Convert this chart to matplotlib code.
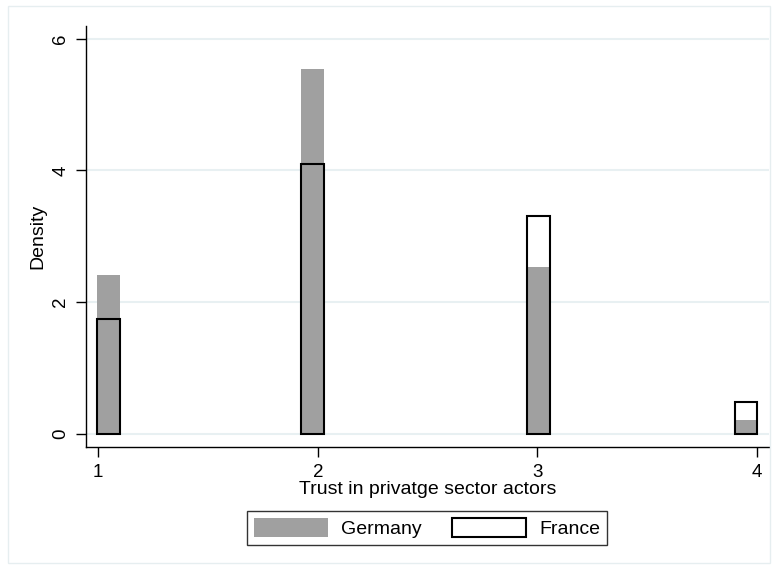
import matplotlib
matplotlib.use("Agg")
import matplotlib.pyplot as plt
from matplotlib.patches import Rectangle, Patch

plt.rcParams['font.family'] = ['Liberation Sans', 'DejaVu Sans']

# histogram bins (left edge of each bar) and densities
bin_left = [0.995, 1.925, 2.955, 3.9]
bin_width = 0.103
germany = [2.42, 5.54, 2.53, 0.21]
france = [1.74, 4.10, 3.31, 0.49]

fig = plt.figure(figsize=(7.76, 5.71), dpi=100)
fig.patches.append(Rectangle((8 / 776, 8 / 571), 762 / 776, 557 / 571,
                             transform=fig.transFigure, fill=False,
                             edgecolor='#e6eef0', linewidth=1))

ax = fig.add_axes([86 / 776, 1 - 447 / 571, 683 / 776, 421 / 571])

ax.bar(bin_left, germany, width=bin_width, align='edge', color='#a0a0a0',
       linewidth=0, zorder=2)
ax.bar(bin_left, france, width=bin_width, align='edge', fill=False,
       edgecolor='black', linewidth=1.5, zorder=3)

ax.set_xlim(0.944, 4.056)
ax.set_ylim(-0.197, 6.19)
ax.set_xticks([1, 2, 3, 4])
ax.set_yticks([0, 2, 4, 6])
ax.yaxis.grid(True, color='#e8f0f2', linewidth=1.5, zorder=0)
ax.set_axisbelow(True)

for s in ['top', 'right']:
    ax.spines[s].set_visible(False)
for s in ['left', 'bottom']:
    ax.spines[s].set_linewidth(1)

ax.tick_params(direction='out', length=7, width=1, labelsize=13.5, pad=5)
plt.setp(ax.get_yticklabels(), rotation=90, va='center')

ax.set_ylabel('Density', fontsize=14, labelpad=4)
ax.set_xlabel('Trust in privatge sector actors', fontsize=14, labelpad=0)

handles = [Patch(facecolor='#a0a0a0', edgecolor='none'),
           Patch(facecolor='white', edgecolor='black', linewidth=1.5)]
leg = fig.legend(handles, ['Germany', 'France'], loc='center',
                 bbox_to_anchor=(427 / 776, 1 - 528 / 571), ncol=2,
                 fontsize=14, fancybox=False, frameon=True,
                 handlelength=3.8, handleheight=1.1, columnspacing=1.6,
                 handletextpad=0.65, borderpad=0.35)
leg.get_frame().set_edgecolor('black')
leg.get_frame().set_linewidth(1)

fig.savefig('out.png', dpi=100)
